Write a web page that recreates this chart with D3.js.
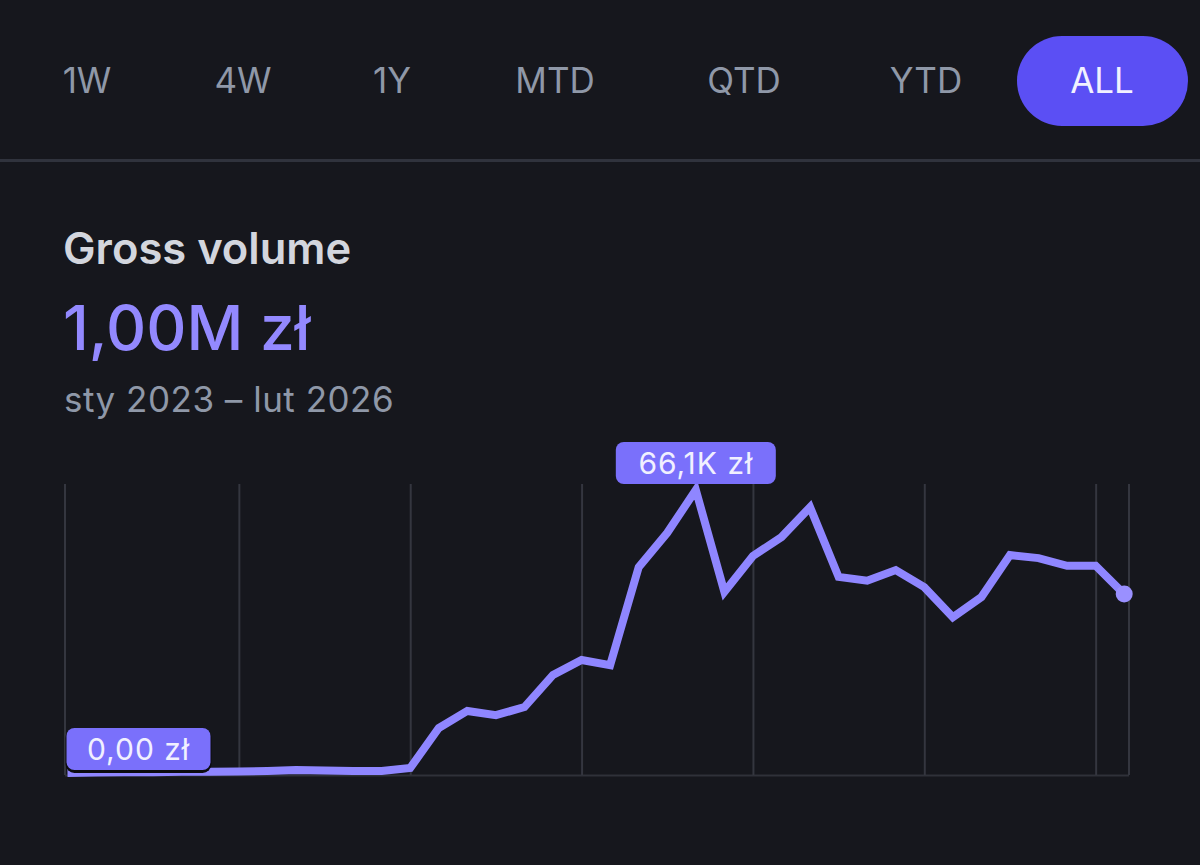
<!DOCTYPE html>
<html>
<head>
<meta charset="utf-8">
<style>
  html, body { margin: 0; background: #16171d; }
  svg { display: block; font-family: Inter, "Noto Sans", sans-serif; }
</style>
<script src="https://cdn.jsdelivr.net/npm/d3@7"></script>
</head>
<body>
<svg id="chart"></svg>
<script>
const tabs = ["1W", "4W", "1Y", "MTD", "QTD", "YTD", "ALL"];
const months = [
  "2023-01", "2023-02", "2023-03", "2023-04", "2023-05", "2023-06", "2023-07", "2023-08",
  "2023-09", "2023-10", "2023-11", "2023-12", "2024-01", "2024-02", "2024-03", "2024-04",
  "2024-05", "2024-06", "2024-07", "2024-08", "2024-09", "2024-10", "2024-11", "2024-12",
  "2025-01", "2025-02", "2025-03", "2025-04", "2025-05", "2025-06", "2025-07", "2025-08",
  "2025-09", "2025-10", "2025-11", "2025-12", "2026-01", "2026-02"
];
// gross volume per month, thousands of zł
const volume = [
  0, 0.1, 0.2, 0.2, 0.3, 0.3, 0.35, 0.47,
  0.7, 0.6, 0.47, 0.47, 1.17, 10.5, 14.5, 13.5,
  15.4, 22.9, 26.4, 25.2, 48.1, 56.1, 66.1, 42.3,
  50.7, 55.1, 62.1, 45.8, 44.9, 47.4, 43.4, 36.4,
  41.1, 50.9, 50.2, 48.4, 48.4, 41.8
];
const gridMonths = ["2023-07", "2024-01", "2024-07", "2025-01", "2025-07", "2026-01"];

const width = 1200;
const height = 865;
const tabCenters = [87, 243, 392, 555, 744, 926, 1102];

const svg = d3.select("#chart").attr("width", width).attr("height", height);

// period tabs
svg.append("rect")
  .attr("x", 1017).attr("y", 36)
  .attr("width", 171).attr("height", 90)
  .attr("rx", 45)
  .attr("fill", "#5b4ff4");

svg.selectAll(".tab")
  .data(tabs)
  .enter()
  .append("text")
  .attr("class", "tab")
  .attr("x", (d, i) => tabCenters[i])
  .attr("y", 93)
  .attr("text-anchor", "middle")
  .style("font-size", "35px")
  .style("font-weight", 400)
  .attr("fill", (d) => (d === "ALL" ? "#f2f1ff" : "#8f98a8"))
  .text((d) => d);

svg.append("rect")
  .attr("x", 0).attr("y", 159)
  .attr("width", width).attr("height", 3)
  .attr("fill", "#30333d");

// header
svg.append("text")
  .attr("x", 63).attr("y", 264)
  .style("font-size", "43.5px").style("font-weight", 600)
  .attr("fill", "#d3d6de")
  .text("Gross volume");

svg.append("text")
  .attr("x", 63).attr("y", 350)
  .style("font-size", "62.3px").style("font-weight", 500)
  .attr("fill", "#9389ff")
  .text("1,00M zł");

svg.append("text")
  .attr("x", 64).attr("y", 412)
  .style("font-size", "35px").style("font-weight", 400)
  .style("letter-spacing", "0.5px")
  .attr("fill", "#8f98a8")
  .text("sty 2023 – lut 2026");

// scales: x runs on month index, a little wider than the data on both sides
const xMin = -0.105;
const xMax = 37.15;
const x = d3.scaleLinear().domain([xMin, xMax]).range([64.5, 1128.5]);
const y = d3.scaleLinear().domain([0, d3.max(volume)]).range([773, 490]);

const axisY = 775;
const gridTop = 484;

const axis = d3.axisBottom(x)
  .tickValues([xMin, ...gridMonths.map((m) => months.indexOf(m)), xMax])
  .tickSize(-(axisY - gridTop))
  .tickSizeOuter(0)
  .tickFormat("");

svg.append("g")
  .attr("transform", `translate(0,${axisY})`)
  .call(axis)
  .call((g) => g.select(".domain").attr("stroke", "#2f3139").attr("stroke-width", 2))
  .call((g) => g.selectAll(".tick line").attr("stroke", "#34363f").attr("stroke-width", 2));

const line = d3.line()
  .x((d, i) => x(i))
  .y((d) => y(d));

svg.append("path")
  .datum(volume)
  .attr("fill", "none")
  .attr("stroke", "#8f86ff")
  .attr("stroke-width", 8)
  .attr("stroke-linejoin", "miter")
  .attr("d", line);

const last = volume.length - 1;
svg.append("circle")
  .attr("cx", x(last))
  .attr("cy", y(volume[last]))
  .attr("r", 8.5)
  .attr("fill", "#9a90ff");

// min and max badges
const drawBadge = (label, left, top, w, outlined) => {
  const g = svg.append("g");
  if (outlined) {
    g.append("rect")
      .attr("x", left - 1).attr("y", top + 1)
      .attr("width", w + 2).attr("height", 44)
      .attr("rx", 9)
      .attr("fill", "#0c0c10");
  }
  g.append("rect")
    .attr("x", left).attr("y", top)
    .attr("width", w).attr("height", 42)
    .attr("rx", 8)
    .attr("fill", "#7a70fb");
  g.append("text")
    .attr("x", left + w / 2).attr("y", top + 32)
    .attr("text-anchor", "middle")
    .style("font-size", "30px")
    .style("letter-spacing", "1px")
    .attr("fill", "#f1f0ff")
    .text(label);
};

const peak = volume.indexOf(d3.max(volume));
drawBadge("66,1K zł", x(peak) - 80, y(volume[peak]) - 48, 160, false);
drawBadge("0,00 zł", x(0) - 1, y(0) - 45, 144, true);
</script>
</body>
</html>
